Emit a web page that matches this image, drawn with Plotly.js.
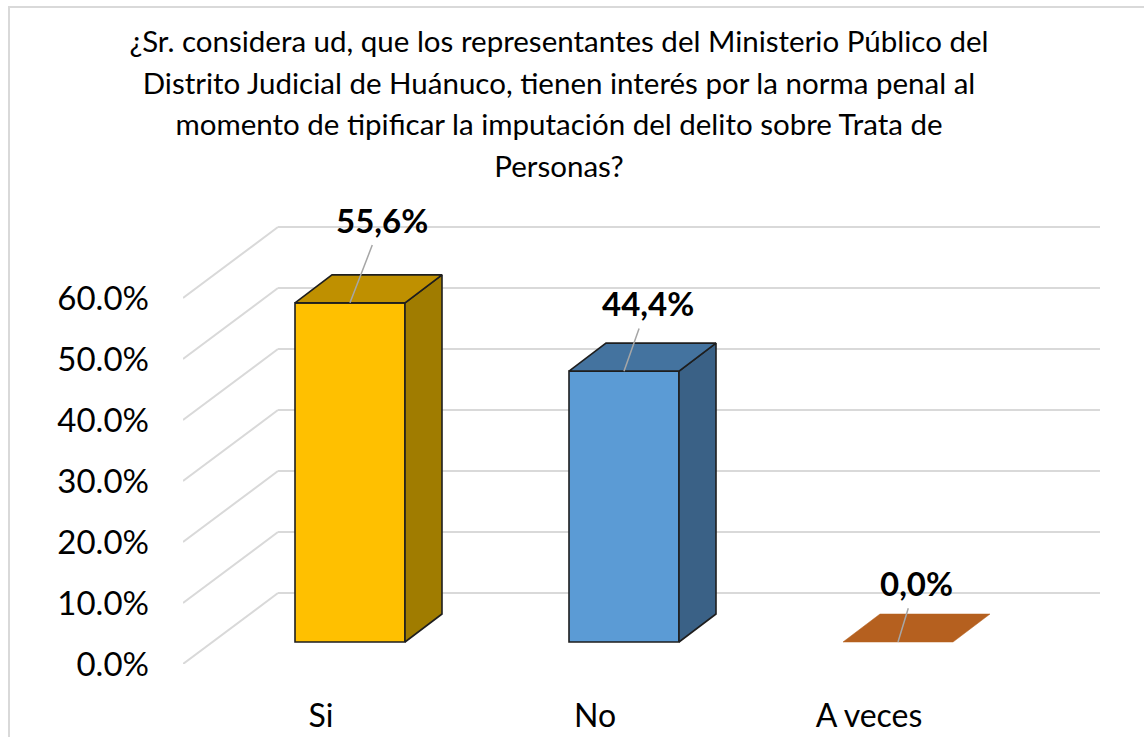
<!DOCTYPE html>
<html><head><meta charset="utf-8">
<script src="https://cdn.plot.ly/plotly-3.0.1.min.js"></script>
<style>html,body{margin:0;padding:0;background:#fff;}#chart{width:1144px;height:737px;}</style>
</head><body><div id="chart"></div>
<script>
// ---- data ----
const categories = ['Si', 'No', 'A veces'];
const values = [0.556, 0.444, 0.0];
const valueLabels = ['55,6%', '44,4%', '0,0%'];
const tickValues = [0, 0.1, 0.2, 0.3, 0.4, 0.5, 0.6];
const titleLines = [
  '¿Sr. considera ud, que los representantes del Ministerio Público del',
  'Distrito Judicial de Huánuco, tienen interés por la norma penal al',
  'momento de tipificar la imputación del delito sobre Trata de',
  'Personas?'
];

// ---- styles ----
const frontColors = ['#FFC000', '#5B9BD5', '#B5601F'];
const topColors = ['#BF9000', '#44739F', '#B5601F'];
const sideColors = ['#A07C00', '#3A6186', '#944F1A'];
const EDGE = '#1E1E1E';
const GRID = '#D9D9D9';
const FONT = 'Lato, "Open Sans", sans-serif';

// ---- geometry (pixels) ----
const W = 1144, H = 737;
const PL = 183, PR = 1100, PT = 200, PB = 664;
const CAT_PX = 274, CAT0_PX = 321;
const Y_PX = 610;
const BACK_DX = 95, BACK_DY = 71;
const BAR_DX = 29, BAR_DY = 22;
const DEPTH_DX = 37, DEPTH_DY = 28;
const BAR_W = 110;
const labelOffsets = [[32, -83], [24, -68], [18, -59]];

const ux = px => px / CAT_PX;
const uy = px => px / Y_PX;
const xRange = [(PL - CAT0_PX) / CAT_PX, (PR - CAT0_PX) / CAT_PX];
const yRange = [0, (PB - PT) / Y_PX];

const base = uy(BAR_DY);
const barX = categories.map((c, i) => i + ux(BAR_DX));
const halfW = ux(BAR_W) / 2;
const ddx = ux(DEPTH_DX), ddy = uy(DEPTH_DY);

const traces = [];
traces.push({
  type: 'bar',
  x: barX,
  y: values,
  base: values.map(() => base),
  width: ux(BAR_W),
  marker: {
    color: frontColors,
    line: {color: EDGE, width: values.map(v => v > 0 ? 1.6 : 0)}
  },
  hoverinfo: 'skip',
  showlegend: false
});

values.forEach((v, i) => {
  const x0 = barX[i] - halfW, x1 = barX[i] + halfW, yt = base + v;
  const solid = v > 0;
  if (solid) {
    traces.push({
      type: 'scatter', mode: 'lines', fill: 'toself',
      x: [x1, x1, x1 + ddx, x1 + ddx, x1],
      y: [base, yt, yt + ddy, base + ddy, base],
      fillcolor: sideColors[i],
      line: {color: EDGE, width: 1.6},
      hoverinfo: 'skip', showlegend: false
    });
  }
  traces.push({
    type: 'scatter', mode: 'lines', fill: 'toself',
    x: [x0, x1, x1 + ddx, x0 + ddx, x0],
    y: [yt, yt, yt + ddy, yt + ddy, yt],
    fillcolor: topColors[i],
    line: {color: solid ? EDGE : topColors[i], width: solid ? 1.6 : 0.5},
    hoverinfo: 'skip', showlegend: false
  });
});

// gridlines on the side wall and back wall
const shapes = [];
tickValues.forEach(t => {
  const xb = xRange[0] + ux(BACK_DX), yb = t + uy(BACK_DY);
  shapes.push({type: 'line', xref: 'x', yref: 'y', layer: 'below',
    x0: xRange[0], y0: t, x1: xb, y1: yb, line: {color: GRID, width: 2}});
  shapes.push({type: 'line', xref: 'x', yref: 'y', layer: 'below',
    x0: xb, y0: yb, x1: xRange[1], y1: yb, line: {color: GRID, width: 2}});
});
// chart border
shapes.push({type: 'rect', xref: 'paper', yref: 'paper', layer: 'above',
  x0: (9 - PL) / (PR - PL), x1: (W + 20 - PL) / (PR - PL),
  y0: (PB - (H + 20)) / (PB - PT), y1: (PB - 7) / (PB - PT),
  line: {color: GRID, width: 2}, fillcolor: 'rgba(0,0,0,0)'});

const annotations = values.map((v, i) => ({
  x: barX[i], y: base + v, xref: 'x', yref: 'y',
  text: valueLabels[i],
  showarrow: true, arrowhead: 0, arrowwidth: 1.5, arrowcolor: '#A6A6A6',
  ax: labelOffsets[i][0], ay: labelOffsets[i][1], startstandoff: 4,
  font: {family: FONT, size: 33, color: '#000', weight: 700}
}));

const layout = {
  width: W, height: H,
  margin: {l: PL, r: W - PR, t: PT, b: H - PB, pad: 0},
  paper_bgcolor: '#fff', plot_bgcolor: '#fff',
  showlegend: false, hovermode: false,
  title: {
    text: titleLines.map(l => '<span style="font-size:29.5px">' + l + '</span>').join('<br>'),
    font: {family: FONT, size: 32, color: '#000'},
    x: 559 / W, xref: 'container', xanchor: 'center',
    y: 1 - 52 / H, yref: 'container', yanchor: 'top'
  },
  xaxis: {
    range: xRange, tickvals: categories.map((c, i) => i), ticktext: categories,
    showgrid: false, zeroline: false, showline: false, ticks: '',
    ticklabelstandoff: 30,
    tickfont: {family: FONT, size: 32, color: '#000'}
  },
  yaxis: {
    range: yRange, tickvals: tickValues, tickformat: '.1%',
    showgrid: false, zeroline: false, showline: false, ticks: '',
    ticklabelstandoff: 33,
    tickfont: {family: FONT, size: 33, color: '#000'}
  },
  shapes: shapes,
  annotations: annotations
};

Plotly.newPlot('chart', traces, layout, {displayModeBar: false, staticPlot: true});
</script>
</body></html>
